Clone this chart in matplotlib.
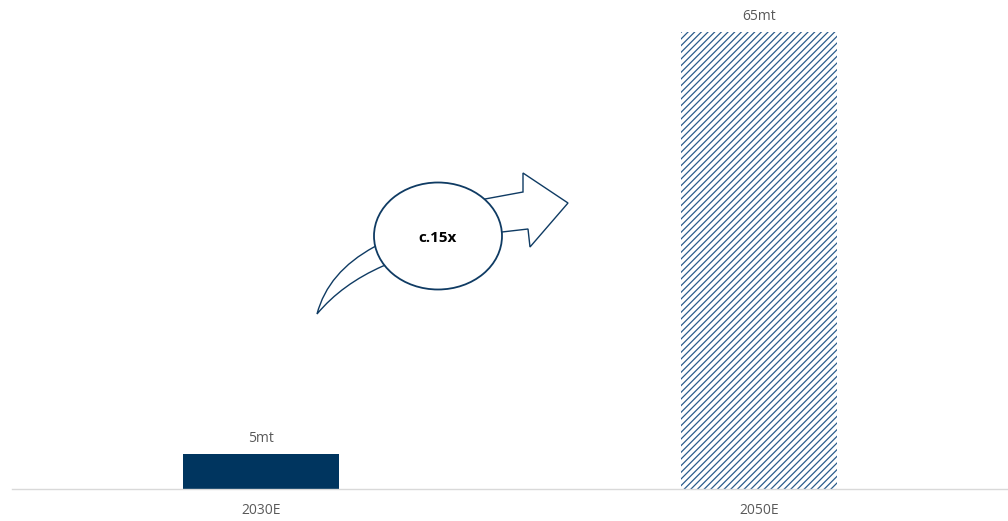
import matplotlib
matplotlib.use('Agg')
import matplotlib.pyplot as plt
from matplotlib.path import Path
from matplotlib.patches import PathPatch, Ellipse

#%% Data
categories = ['2030E', '2050E']
values = [5, 65]
value_labels = ['5mt', '65mt']
multiple_label = 'c.15x'

#%% Style
plt.rcParams['font.family'] = ['Open Sans', 'DejaVu Sans']
plt.rcParams['hatch.linewidth'] = 0.9
navy = '#00355f'
hatch_col = '#2b5c8c'
line_col = '#0f3b63'
grey_txt = '#595959'

W, H = 1008, 521
fig = plt.figure(figsize=(W / 100, H / 100), dpi=100)

# main axes: baseline at y=489 px, 65 reaches y=32 px
ax = fig.add_axes([12 / W, (H - 489) / H, (W - 12) / W, 457 / H])
x = range(len(categories))
bars = ax.bar(x, values, width=0.315, color=[navy, 'white'], linewidth=0)
bars[1].set_hatch('/////')
bars[1].set_edgecolor(hatch_col)

ax.set_xlim(-0.5, len(categories) - 0.5)
ax.set_ylim(0, max(values))
ax.set_yticks([])
ax.set_xticks(list(x))
ax.set_xticklabels(categories, fontsize=10, color=grey_txt)
ax.tick_params(axis='x', length=0, pad=10)
for s in ['top', 'left', 'right']:
    ax.spines[s].set_visible(False)
ax.spines['bottom'].set_color('#d9d9d9')
ax.spines['bottom'].set_linewidth(1.0)

for b, lab in zip(bars, value_labels):
    ax.annotate(lab, (b.get_x() + b.get_width() / 2, b.get_height()),
                xytext=(0, 6), textcoords='offset points',
                ha='center', va='bottom', fontsize=10, color=grey_txt,
                annotation_clip=False)

#%% Curved arrow with ellipse (overlay in pixel coords)
ov = fig.add_axes([0, 0, 1, 1], facecolor='none')
ov.set_xlim(0, W)
ov.set_ylim(H, 0)
ov.axis('off')

verts = [
    (317, 314),
    (328, 272), (374, 247),      # upper curve (quad bezier)
    (485, 199), (523, 192), (523, 173), (568, 203),
    (530, 247), (528, 229), (502, 232),
    (383, 266),
    (342, 284), (317, 314),      # lower curve back to tail
    (317, 314),
]
codes = [Path.MOVETO,
         Path.CURVE3, Path.CURVE3,
         Path.LINETO, Path.LINETO, Path.LINETO, Path.LINETO,
         Path.LINETO, Path.LINETO, Path.LINETO,
         Path.LINETO,
         Path.CURVE3, Path.CURVE3,
         Path.CLOSEPOLY]
ov.add_patch(PathPatch(Path(verts, codes), facecolor='white',
                       edgecolor=line_col, linewidth=1.0, joinstyle='miter'))
ov.add_patch(Ellipse((438, 236), 128, 107, facecolor='white',
                     edgecolor=line_col, linewidth=1.3))
ov.text(438, 238, multiple_label, ha='center', va='center',
        fontsize=11, fontweight='bold', color='black')

fig.savefig('out.png', dpi=100)
